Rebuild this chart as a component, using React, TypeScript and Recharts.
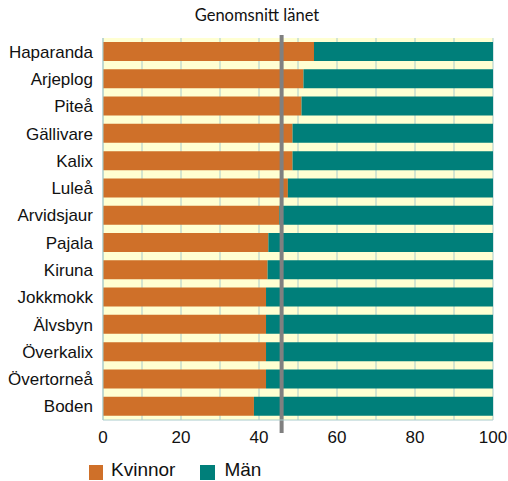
import React from 'react';
import { BarChart, Bar, XAxis, YAxis, CartesianGrid, ReferenceLine } from 'recharts';

const kommuner = [
  'Haparanda', 'Arjeplog', 'Piteå', 'Gällivare', 'Kalix', 'Luleå', 'Arvidsjaur',
  'Pajala', 'Kiruna', 'Jokkmokk', 'Älvsbyn', 'Överkalix', 'Övertorneå', 'Boden',
];
const kvinnor = [54.1, 51.4, 50.9, 48.6, 48.6, 47.4, 45.2, 42.4, 42.2, 41.8, 41.8, 41.8, 41.8, 38.7];
const man = [45.9, 48.6, 49.1, 51.4, 51.4, 52.6, 54.8, 57.6, 57.8, 58.2, 58.2, 58.2, 58.2, 61.3];
const xTicks = [0, 10, 20, 30, 40, 50, 60, 70, 80, 90, 100];
const snittLanet = 45.8;

const ORANGE = '#cf7029';
const TEAL = '#007f7a';
const GRID = '#a9cccc';
const FONT = 'Liberation Sans, Arial, sans-serif';

const data = kommuner.map((name, i) => ({ name, kvinnor: kvinnor[i], man: man[i] }));

// extend the mean line a bit above and below the plot, like the original
const MeanLine = (props: any) => {
  const { x1, y1, x2, y2 } = props;
  const top = Math.min(y1, y2);
  const bottom = Math.max(y1, y2);
  return <line x1={x1} y1={top - 3} x2={x2} y2={bottom + 13} stroke="#808080" strokeWidth={4} />;
};

export default function App() {
  return (
    <div style={{ position: 'absolute', left: 0, top: 0, width: 508, height: 481, fontFamily: FONT, overflow: 'hidden' }}>
      <div
        style={{
          position: 'absolute', left: 0, width: 514, top: 5, textAlign: 'center',
          fontFamily: 'Lato, sans-serif', fontSize: 16.5, color: '#111',
        }}
      >
        Genomsnitt länet
      </div>
      <BarChart
        width={508}
        height={481}
        data={data}
        layout="vertical"
        margin={{ top: 38, right: 15, bottom: 31, left: 8 }}
        barSize={19}
      >
        <CartesianGrid horizontal={false} stroke={GRID} fill="#ffffd2" fillOpacity={1} />
        <XAxis
          type="number"
          domain={[0, 100]}
          ticks={xTicks}
          interval={0}
          tickFormatter={(v: number) => (v % 20 === 0 ? String(v) : '')}
          tickLine={false}
          tickMargin={5}
          axisLine={{ stroke: GRID }}
          height={30}
          tick={{ fontSize: 17, fill: '#111', fontFamily: FONT }}
        />
        <XAxis
          xAxisId="top"
          orientation="top"
          type="number"
          domain={[0, 100]}
          height={0}
          tick={false}
          tickLine={false}
          axisLine={{ stroke: '#222', strokeWidth: 2 }}
        />
        <YAxis
          type="category"
          dataKey="name"
          width={95}
          tickLine={false}
          tickMargin={4}
          axisLine={{ stroke: GRID }}
          interval={0}
          tick={{ fontSize: 17, fill: '#111', fontFamily: FONT }}
        />
        <YAxis yAxisId="ref" type="number" domain={[0, 1]} hide />
        <Bar dataKey="kvinnor" stackId="a" fill={ORANGE} isAnimationActive={false} />
        <Bar dataKey="man" stackId="a" fill={TEAL} isAnimationActive={false} />
        <ReferenceLine x={snittLanet} yAxisId="ref" shape={MeanLine} />
      </BarChart>
      <div style={{ position: 'absolute', left: 89, top: 460, height: 20, display: 'flex', alignItems: 'flex-end', fontSize: 19, lineHeight: '20px', color: '#111' }}>
        <span style={{ width: 14, height: 15, background: ORANGE, display: 'inline-block', marginRight: 8, marginBottom: 0 }} />
        <span style={{ marginRight: 25 }}>Kvinnor</span>
        <span style={{ width: 15, height: 15, background: TEAL, display: 'inline-block', marginRight: 9 }} />
        <span>Män</span>
      </div>
    </div>
  );
}
